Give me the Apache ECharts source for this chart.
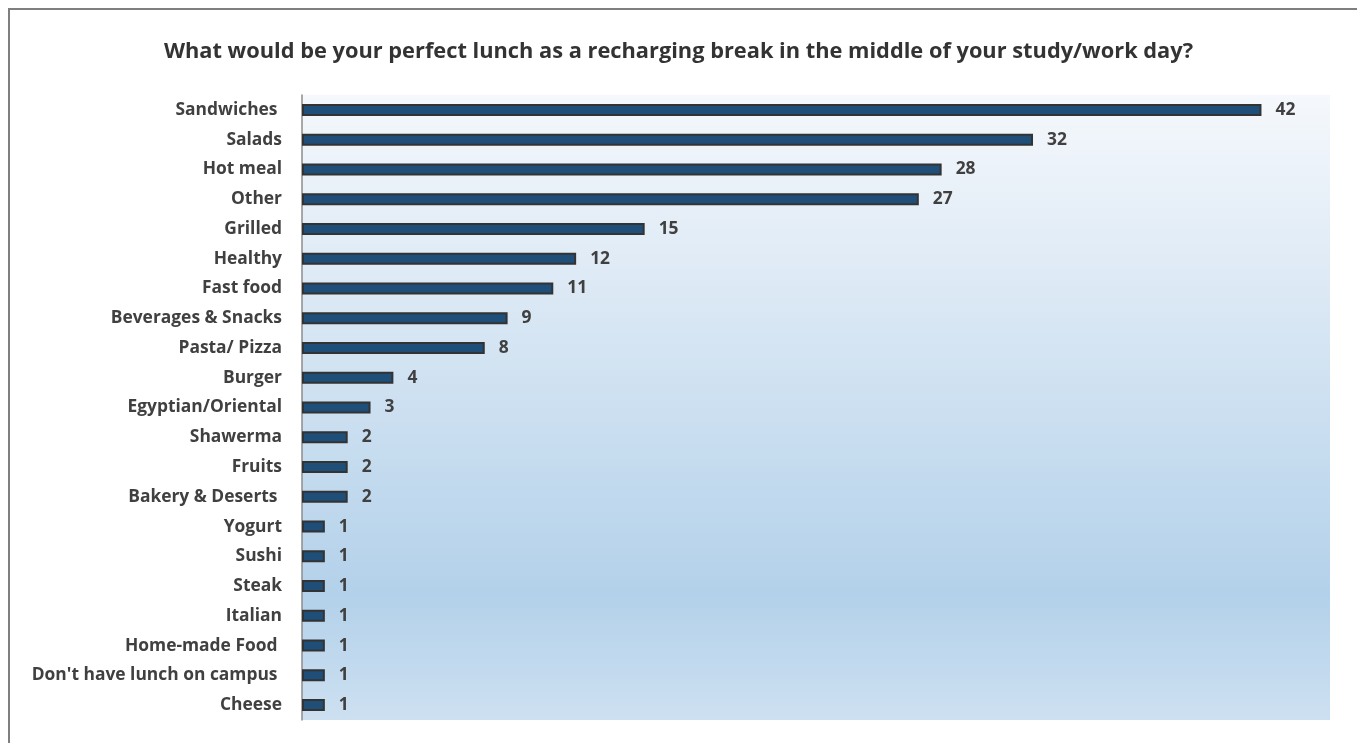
<!DOCTYPE html>
<html>
<head>
<meta charset="utf-8">
<script src="https://cdn.jsdelivr.net/npm/echarts@6/dist/echarts.min.js"></script>
<style>
  html, body { margin: 0; padding: 0; background: #ffffff; overflow: hidden; }
  #frame { position: absolute; left: 8px; top: 8px; width: 1400px; height: 800px;
           border-left: 2px solid #7f7f7f; border-top: 2px solid #7f7f7f; box-sizing: border-box; }
  #chart { position: absolute; left: 0; top: 0; width: 1357px; height: 743px; }
</style>
</head>
<body>
<div id="frame"></div>
<div id="chart"></div>
<script>
// Survey answers, listed from most to least frequent
const categories = [
  'Sandwiches ', 'Salads', 'Hot meal', 'Other', 'Grilled', 'Healthy', 'Fast food',
  'Beverages & Snacks', 'Pasta/ Pizza', 'Burger', 'Egyptian/Oriental', 'Shawerma',
  'Fruits', 'Bakery & Deserts ', 'Yogurt', 'Sushi', 'Steak', 'Italian',
  'Home-made Food ', "Don't have lunch on campus ", 'Cheese'
];
const counts = [42, 32, 28, 27, 15, 12, 11, 9, 8, 4, 3, 2, 2, 2, 1, 1, 1, 1, 1, 1, 1];
const chartTitle = 'What would be your perfect lunch as a recharging break in the middle of your study/work day?';

const FONT = '"Open Sans", sans-serif';
const chart = echarts.init(document.getElementById('chart'), null, { renderer: 'canvas' });

chart.setOption({
  backgroundColor: 'transparent',
  animation: false,
  title: {
    text: chartTitle,
    left: 'center',
    top: 36,
    textStyle: { fontFamily: FONT, fontWeight: 'bold', fontSize: 21.8, color: '#333333' }
  },
  grid: {
    left: 302, right: 27, top: 95, bottom: 23,
    show: true,
    borderWidth: 0,
    backgroundColor: {
      type: 'linear', x: 0, y: 0, x2: 0, y2: 1,
      colorStops: [
        { offset: 0, color: '#f5f8fc' },
        { offset: 0.35, color: '#d9e7f4' },
        { offset: 0.8, color: '#b3d1ea' },
        { offset: 1, color: '#cde0f1' }
      ]
    }
  },
  xAxis: {
    type: 'value',
    min: 0,
    max: 45,
    show: false,
    splitLine: { show: false }
  },
  yAxis: {
    type: 'category',
    data: categories,
    inverse: true,
    axisLine: { show: true, lineStyle: { color: '#8c8c8c', width: 1.5 } },
    axisTick: { show: false },
    axisLabel: {
      margin: 20,
      fontFamily: FONT, fontWeight: 'bold', fontSize: 17.4, color: '#404040'
    }
  },
  series: [{
    type: 'bar',
    data: counts,
    barWidth: 12,
    itemStyle: { color: '#1f4e79', borderColor: '#333333', borderWidth: 2 },
    label: {
      show: true,
      position: 'right',
      distance: 14,
      fontFamily: FONT, fontWeight: 'bold', fontSize: 17.4, color: '#404040'
    }
  }]
});
</script>
</body>
</html>
